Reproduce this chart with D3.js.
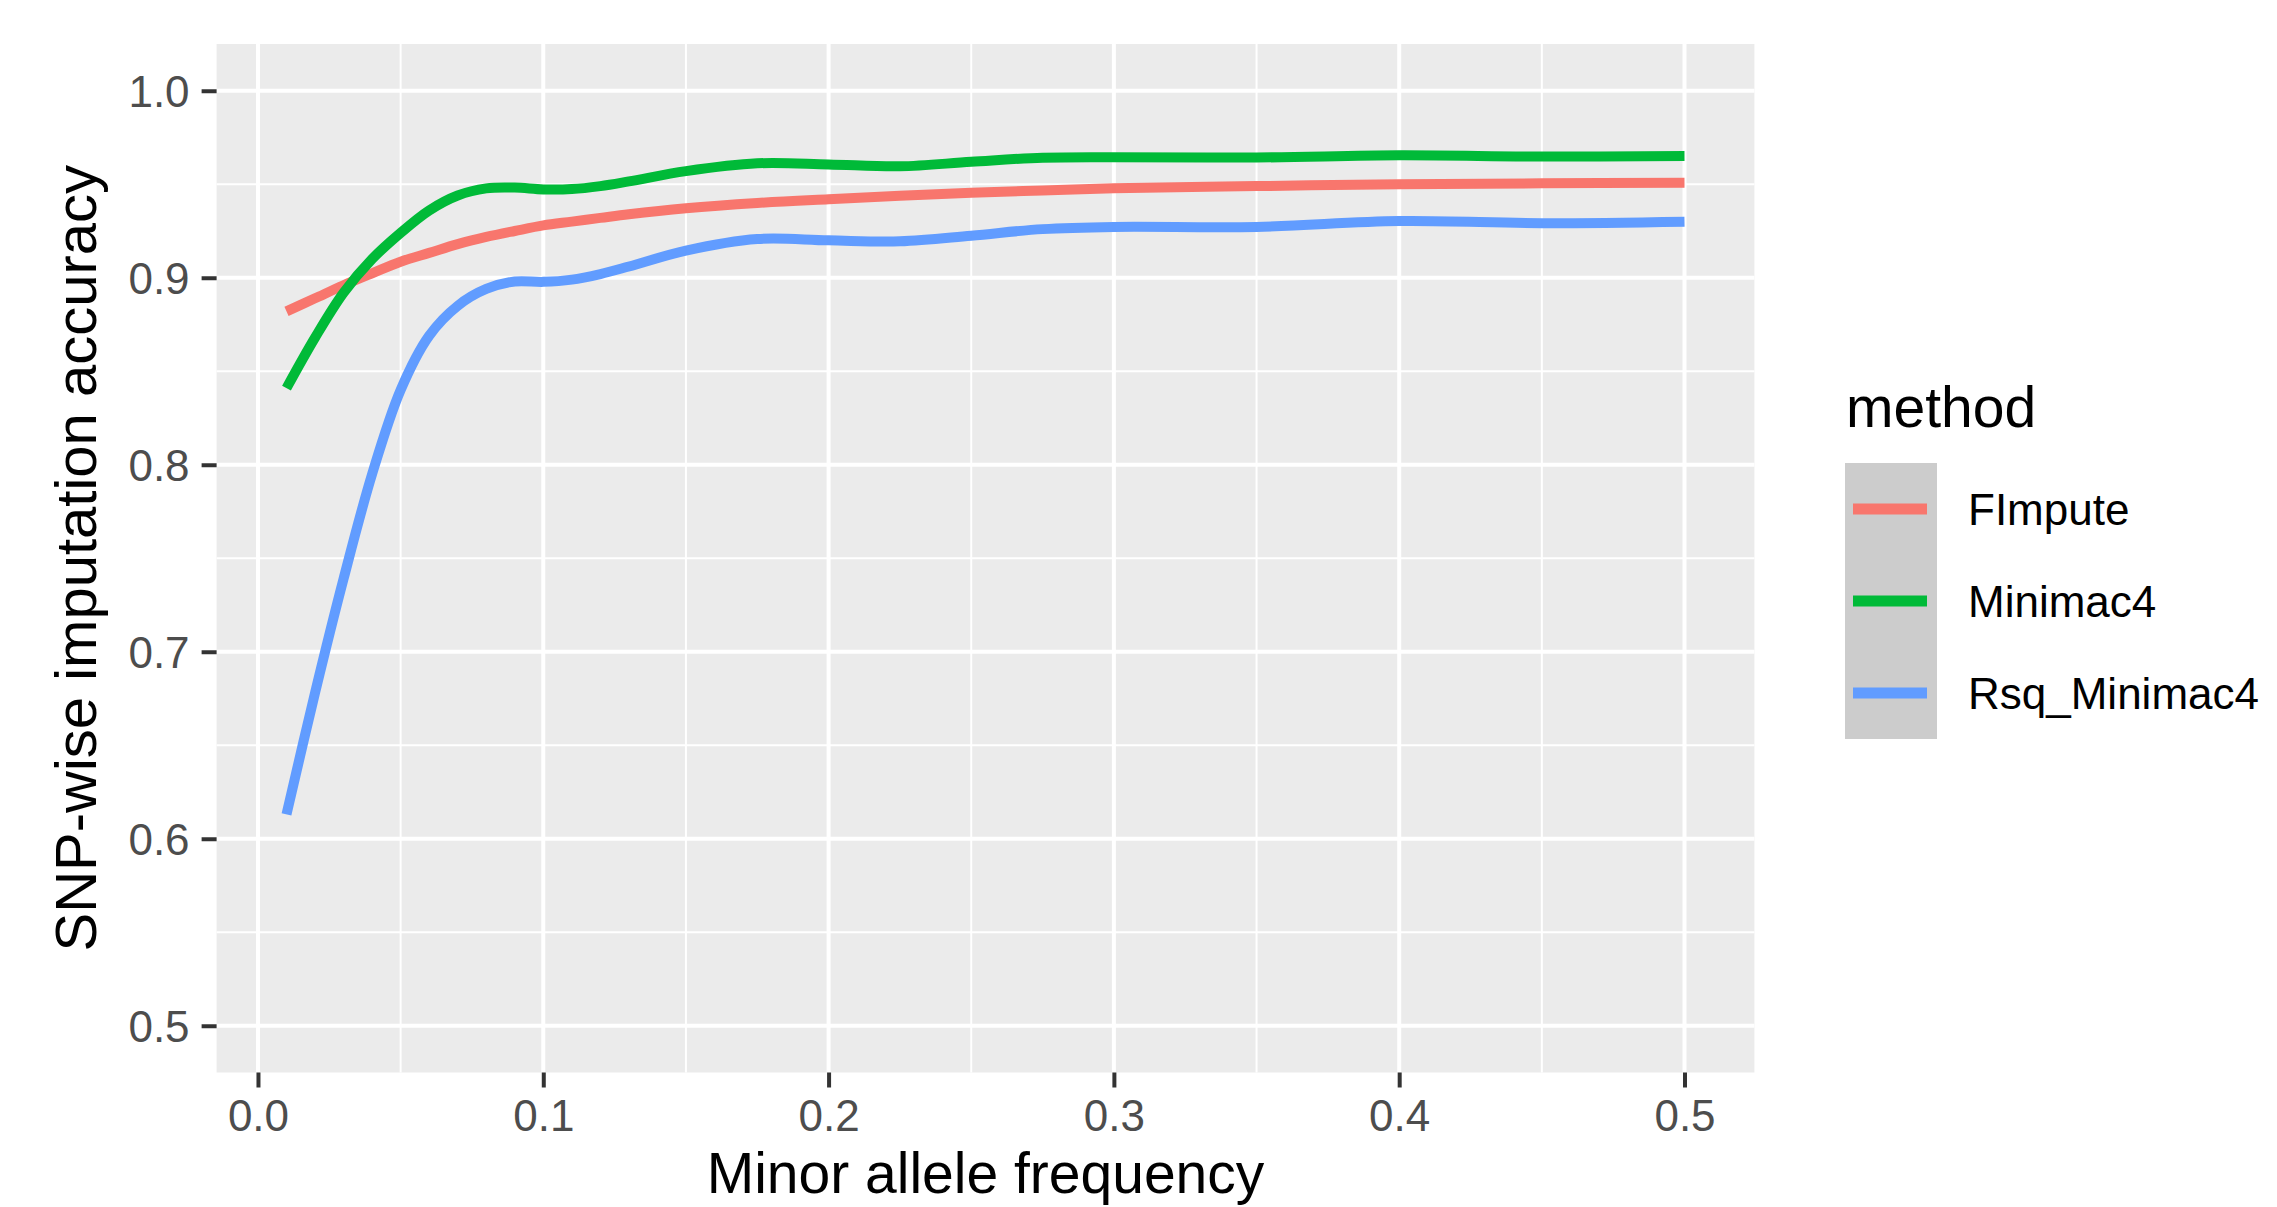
<!DOCTYPE html>
<html>
<head>
<meta charset="utf-8">
<script src="https://cdn.jsdelivr.net/npm/d3@7"></script>
<style>
  html, body { margin: 0; padding: 0; background: #ffffff; }
  svg { display: block; }
  text { font-family: "Liberation Sans", Arial, Helvetica, sans-serif; }
</style>
</head>
<body>
<svg id="chart" width="2277" height="1207"></svg>
<script>
// ---- data ----
const methods = ["FImpute", "Minimac4", "Rsq_Minimac4"];
const colors = ["#F8766D", "#00BA38", "#619CFF"];
const maf = [0.01, 0.02, 0.03, 0.04, 0.05, 0.06, 0.07, 0.08, 0.09, 0.10, 0.11, 0.12, 0.13, 0.15, 0.175, 0.20, 0.225, 0.25, 0.275, 0.30, 0.35, 0.40, 0.45, 0.50];
const fimpute = [0.882, 0.889, 0.896, 0.9024, 0.9086, 0.9133, 0.918, 0.9218, 0.925, 0.928, 0.930, 0.932, 0.934, 0.9372, 0.940, 0.942, 0.9438, 0.9455, 0.9467, 0.9478, 0.949, 0.950, 0.9505, 0.9508];
const minimac4 = [0.841, 0.868, 0.892, 0.910, 0.924, 0.936, 0.944, 0.9478, 0.9482, 0.9472, 0.9474, 0.949, 0.9515, 0.957, 0.9612, 0.9606, 0.9596, 0.962, 0.9642, 0.9645, 0.9643, 0.9655, 0.9648, 0.9651];
const rsqMinimac4 = [0.613, 0.678, 0.739, 0.795, 0.840, 0.869, 0.885, 0.894, 0.898, 0.8978, 0.899, 0.902, 0.906, 0.9145, 0.9207, 0.920, 0.9195, 0.9225, 0.926, 0.9272, 0.9272, 0.9303, 0.9292, 0.930];
const xTicks = [0.0, 0.1, 0.2, 0.3, 0.4, 0.5];
const xMinor = [0.05, 0.15, 0.25, 0.35, 0.45];
const yTicks = [0.5, 0.6, 0.7, 0.8, 0.9, 1.0];
const yMinor = [0.55, 0.65, 0.75, 0.85, 0.95];
const xTitle = "Minor allele frequency";
const yTitle = "SNP-wise imputation accuracy";
const legendTitle = "method";

const seriesValues = [fimpute, minimac4, rsqMinimac4];

// ---- layout ----
const panel = { left: 216.6, right: 1754.4, top: 44, bottom: 1072.5 };
const xLim = [0.01, 0.5], yLim = [0.5, 1.0];
const xPad = (xLim[1] - xLim[0]) * 0.05, yPad = (yLim[1] - yLim[0]) * 0.05;

const x = d3.scaleLinear().domain([xLim[0] - xPad, xLim[1] + xPad]).range([panel.left, panel.right]);
const y = d3.scaleLinear().domain([yLim[0] - yPad, yLim[1] + yPad]).range([panel.bottom, panel.top]);

const svg = d3.select("#chart");

// panel background
svg.append("rect")
  .attr("x", panel.left).attr("y", panel.top)
  .attr("width", panel.right - panel.left).attr("height", panel.bottom - panel.top)
  .attr("fill", "#EBEBEB");

const grid = svg.append("g");
// minor grid
grid.selectAll(".ym").data(yMinor).join("line")
  .attr("x1", panel.left).attr("x2", panel.right)
  .attr("y1", d => y(d)).attr("y2", d => y(d))
  .attr("stroke", "#ffffff").attr("stroke-width", 2);
grid.selectAll(".xm").data(xMinor).join("line")
  .attr("y1", panel.top).attr("y2", panel.bottom)
  .attr("x1", d => x(d)).attr("x2", d => x(d))
  .attr("stroke", "#ffffff").attr("stroke-width", 2);
// major grid
grid.selectAll(".yM").data(yTicks).join("line")
  .attr("x1", panel.left).attr("x2", panel.right)
  .attr("y1", d => y(d)).attr("y2", d => y(d))
  .attr("stroke", "#ffffff").attr("stroke-width", 4);
grid.selectAll(".xM").data(xTicks).join("line")
  .attr("y1", panel.top).attr("y2", panel.bottom)
  .attr("x1", d => x(d)).attr("x2", d => x(d))
  .attr("stroke", "#ffffff").attr("stroke-width", 4);

// lines
const line = d3.line().x(d => x(d[0])).y(d => y(d[1])).curve(d3.curveCatmullRom.alpha(0.5));
const lineG = svg.append("g");
methods.forEach((m, i) => {
  const pts = maf.map((v, j) => [v, seriesValues[i][j]]);
  lineG.append("path")
    .attr("d", line(pts))
    .attr("fill", "none")
    .attr("stroke", colors[i])
    .attr("stroke-width", 10)
    .attr("stroke-linecap", "butt")
    .attr("stroke-linejoin", "round");
});

// axes
const xAxis = d3.axisBottom(x).tickValues(xTicks).tickFormat(d3.format(".1f")).tickSize(15).tickPadding(12);
const yAxis = d3.axisLeft(y).tickValues(yTicks).tickFormat(d3.format(".1f")).tickSize(15).tickPadding(12);

const gx = svg.append("g").attr("transform", `translate(0,${panel.bottom})`).call(xAxis);
const gy = svg.append("g").attr("transform", `translate(${panel.left},0)`).call(yAxis);
[gx, gy].forEach(g => {
  g.select(".domain").remove();
  g.selectAll(".tick line").attr("stroke", "#333333").attr("stroke-width", 4);
  g.selectAll(".tick text").attr("fill", "#4D4D4D").attr("font-size", 44)
    .attr("font-family", "Liberation Sans, Arial, sans-serif");
});
gx.selectAll(".tick text").attr("dy", "0.71em");
gy.selectAll(".tick text").attr("dy", "0.36em");

// axis titles
svg.append("text")
  .attr("x", (panel.left + panel.right) / 2).attr("y", 1193)
  .attr("text-anchor", "middle").attr("font-size", 57).attr("fill", "#000")
  .text(xTitle);
svg.append("text")
  .attr("transform", `translate(96,${(panel.top + panel.bottom) / 2}) rotate(-90)`)
  .attr("text-anchor", "middle").attr("font-size", 58).attr("fill", "#000")
  .text(yTitle);

// legend
const lg = svg.append("g");
lg.append("text").attr("x", 1846).attr("y", 427).attr("font-size", 57).attr("fill", "#000").text(legendTitle);
const keyTop = 463, keyH = 92, keyX = 1845, keyW = 92;
lg.append("rect").attr("x", keyX).attr("y", keyTop).attr("width", keyW).attr("height", keyH * methods.length)
  .attr("fill", "#CCCCCC");
methods.forEach((m, i) => {
  const cy = keyTop + keyH * i + keyH / 2;
  lg.append("line").attr("x1", keyX + 8).attr("x2", keyX + keyW - 10)
    .attr("y1", cy).attr("y2", cy)
    .attr("stroke", colors[i]).attr("stroke-width", 11);
  lg.append("text").attr("x", 1968).attr("y", cy).attr("dy", "0.36em")
    .attr("font-size", 44).attr("fill", "#000").text(m);
});
</script>
</body>
</html>
